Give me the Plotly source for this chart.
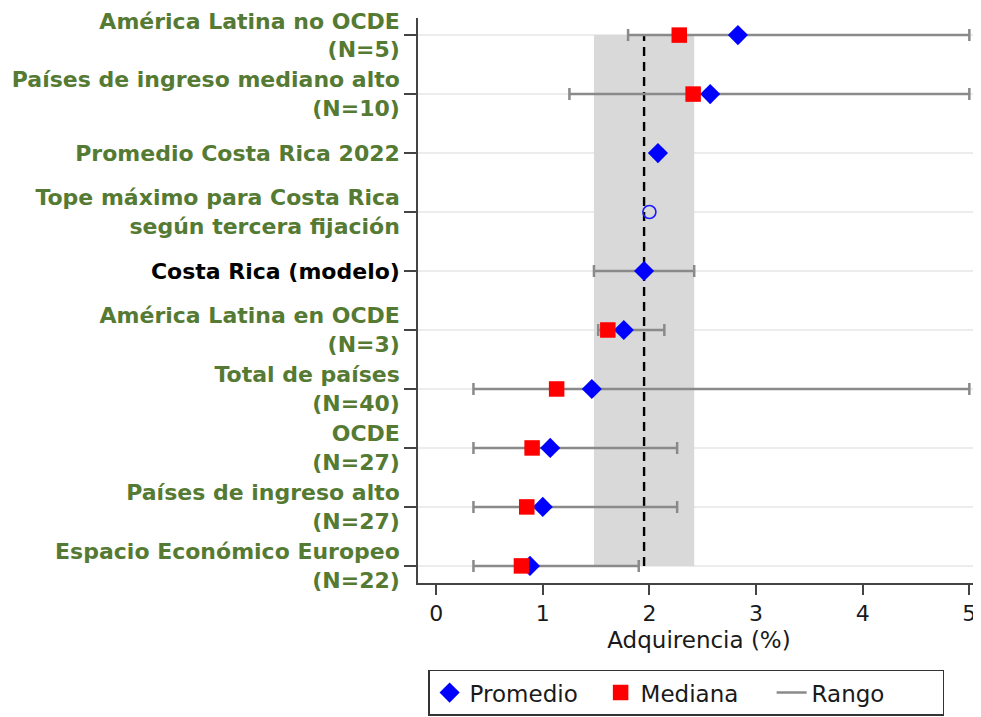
import plotly.graph_objects as go

# ---------------- data (top to bottom) ----------------
categories = [
    "América Latina no OCDE<br>(N=5)",
    "Países de ingreso mediano alto<br>(N=10)",
    "Promedio Costa Rica 2022",
    "Tope máximo para Costa Rica<br>según tercera fijación",
    "Costa Rica (modelo)",
    "América Latina en OCDE<br>(N=3)",
    "Total de países<br>(N=40)",
    "OCDE<br>(N=27)",
    "Países de ingreso alto<br>(N=27)",
    "Espacio Económico Europeo<br>(N=22)",
]
label_colors = ["#557a33"] * 4 + ["#000000"] + ["#557a33"] * 5

promedio = [2.83, 2.57, 2.08, None, 1.95, 1.76, 1.46, 1.07, 1.00, 0.88]
mediana = [2.28, 2.41, None, None, None, 1.61, 1.13, 0.90, 0.85, 0.80]
rango_min = [1.80, 1.25, None, None, 1.48, 1.52, 0.35, 0.35, 0.35, 0.35]
rango_max = [5.00, 5.00, None, None, 2.42, 2.14, 5.00, 2.26, 2.26, 1.90]
tope = [None, None, None, 2.00, None, None, None, None, None, None]

banda = [1.48, 2.42]       # shaded band (Costa Rica model range)
referencia = 1.95          # dashed reference line

x_ticks = [0, 1, 2, 3, 4, 5]

# ---------------- derived ----------------
n = len(categories)
ypos = list(range(n - 1, -1, -1))
FONT = "DejaVu Sans"

rx, ry, rerr = [], [], []
for lo, hi, y in zip(rango_min, rango_max, ypos):
    if lo is not None and hi is not None:
        rx.append((lo + hi) / 2)
        ry.append(y)
        rerr.append((hi - lo) / 2)

fig = go.Figure()

# range bars
fig.add_trace(go.Scatter(
    x=rx, y=ry, mode="markers",
    marker=dict(size=1, color="rgba(0,0,0,0)"),
    error_x=dict(type="data", symmetric=True, array=rerr,
                 color="#8a8a8a", thickness=2.5, width=6),
    showlegend=False, hoverinfo="skip", cliponaxis=False,
))
# legend entry for the range
fig.add_trace(go.Scatter(
    x=[None], y=[None], mode="lines", name="Rango",
    line=dict(color="#8a8a8a", width=2.5), legendrank=3,
))
# means
fig.add_trace(go.Scatter(
    x=promedio, y=ypos, mode="markers", name="Promedio",
    marker=dict(symbol="diamond", size=15.5, color="#0000ff"),
    legendrank=1, cliponaxis=False,
))
# medians
fig.add_trace(go.Scatter(
    x=mediana, y=ypos, mode="markers", name="Mediana",
    marker=dict(symbol="square", size=15.5, color="#ff0000"),
    legendrank=2, cliponaxis=False,
))
# cap value (hollow circle)
fig.add_trace(go.Scatter(
    x=tope, y=ypos, mode="markers", showlegend=False,
    marker=dict(symbol="circle-open", size=13, color="#1a1aff",
                line=dict(width=1.6)),
))

top_y, bot_y = ypos[0], ypos[-1]
fig.add_shape(type="rect", xref="x", yref="y",
              x0=banda[0], x1=banda[1], y0=bot_y, y1=top_y,
              fillcolor="#d9d9d9", line=dict(width=0), layer="between")
fig.add_shape(type="line", xref="x", yref="y",
              x0=referencia, x1=referencia, y0=bot_y, y1=top_y,
              line=dict(color="#000000", width=2.4, dash="9px,6px"),
              layer="between")

ticktext = [f"<span style='color:{c}'><b>{t}</b></span>"
            for t, c in zip(categories, label_colors)]

# page body adds an 8px offset, so the figure is 8px smaller on each side
fig.update_layout(
    width=973, height=709,
    margin=dict(l=410, r=1, t=10, b=132),
    paper_bgcolor="white", plot_bgcolor="white",
    font=dict(family=FONT, size=22, color="#1a1a1a"),
    showlegend=True,
    legend=dict(
        orientation="h", x=0.018, xanchor="left", y=-0.1534, yanchor="top",
        bordercolor="#333333", borderwidth=1.5,
        font=dict(family=FONT, size=23, color="#1a1a1a"),
        entrywidth=126, itemwidth=30, tracegroupgap=0,
    ),
    xaxis=dict(
        range=[-0.17, 5.10], tickvals=x_ticks,
        ticks="outside", ticklen=10, tickwidth=1.5, tickcolor="#444",
        showline=True, linecolor="#444", linewidth=1.5,
        showgrid=False, zeroline=False, automargin=False,
        title=dict(text="Adquirencia (%)", standoff=7,
                   font=dict(size=23, color="#1a1a1a")),
        tickfont=dict(size=22, color="#1a1a1a"),
    ),
    yaxis=dict(
        range=[-0.29, n - 1 + 0.29], tickvals=ypos, ticktext=ticktext,
        ticks="outside", ticklen=12, tickwidth=1.5, tickcolor="#444",
        showline=True, linecolor="#444", linewidth=1.5,
        showgrid=True, gridcolor="#ececec", gridwidth=1.5,
        zeroline=False, automargin=False,
        tickfont=dict(family=FONT, size=22),
    ),
)

fig.write_html("out.html")
